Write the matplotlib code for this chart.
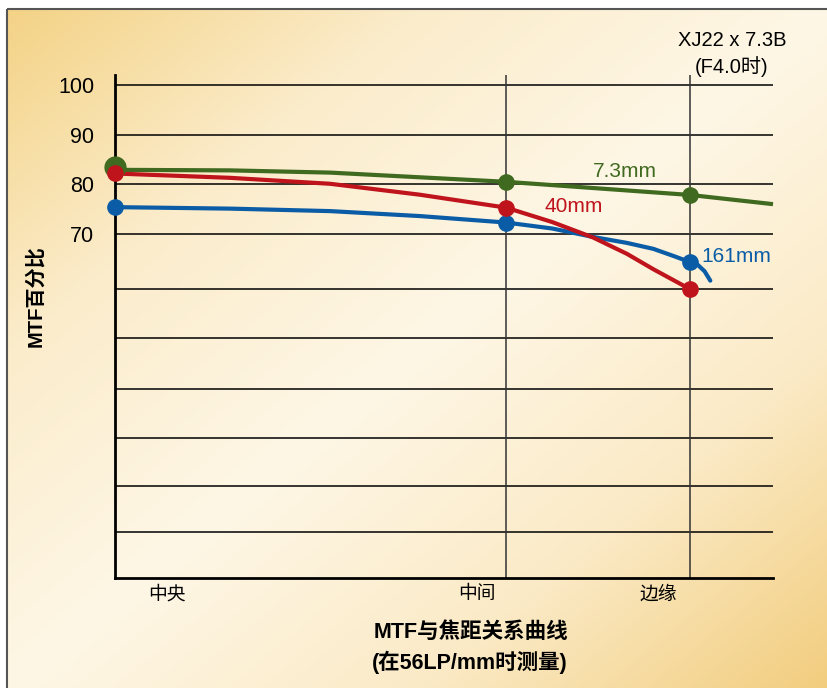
import numpy as np
import matplotlib
matplotlib.use('Agg')
import matplotlib.pyplot as plt
from matplotlib import font_manager
from matplotlib.colors import LinearSegmentedColormap
from matplotlib.patches import Rectangle

# fonts: condensed latin if we have it, CJK as fallback
names = {f.name for f in font_manager.fontManager.ttflist}
latin = 'Liberation Sans Narrow' if 'Liberation Sans Narrow' in names else 'Liberation Sans'
cjk = 'Noto Sans CJK SC'
fam = [latin, cjk, 'DejaVu Sans']
fam_cjk = [cjk, latin, 'DejaVu Sans']
plt.rcParams['font.family'] = fam

# --- data ---
pos_labels = ['中央', '中间', '边缘']
pos_x = [0.0, 6.8, 10.0]          # 中央 / 中间 / 边缘

# 7.3mm
g_x = [0.0, 0.17, 2.0, 3.74, 6.8, 10.0, 11.44]
g_y = [82.9, 82.9, 82.8, 82.35, 80.5, 77.85, 76.0]
g_mark = [83.4, 80.5, 77.9]

# 40mm
r_x = [0.0, 0.17, 2.0, 3.74, 5.30, 6.8, 7.6, 8.31, 8.9, 9.36, 9.98]
r_y = [82.3, 82.1, 81.3, 80.1, 77.9, 75.3, 72.4, 69.3, 66.0, 62.9, 59.0]
r_mark = [82.3, 75.3, 59.0]

# 161mm
b_x = [0.0, 2.0, 3.74, 5.30, 6.8, 7.6, 8.31, 8.9, 9.36, 9.75, 9.98, 10.12, 10.25, 10.35]
b_y = [75.4, 75.1, 74.6, 73.6, 72.3, 71.1, 69.4, 68.2, 67.0, 65.4, 64.4, 63.9, 62.5, 60.6]
b_mark = [75.4, 72.3, 64.4]

ytick_vals = [70, 80, 90, 100]
lower_grid = [10.0, 19.3, 28.9, 38.8, 49.1, 58.9]

GREEN = '#3f6a1f'
RED = '#c0141d'
BLUE = '#0b5ca6'

W, H = 828, 688
fig = plt.figure(figsize=(W / 100, H / 100), dpi=100)
fig.patch.set_facecolor('white')

# background panel with diagonal gradient
bg = fig.add_axes([0, 0, 1, 1], zorder=-5)
bg.axis('off')
xx, yy = np.meshgrid(np.linspace(0, 1, 300), np.linspace(0, 1, 300))
t = (xx + yy) / 2
cmap = LinearSegmentedColormap.from_list('bg', ['#f4d387', '#fbeccb', '#fef7e6', '#fbeac6', '#f2cd7e'])
bg.imshow(t, cmap=cmap, extent=(7, W + 2, H + 2, 9), aspect='auto', interpolation='bilinear')
bg.add_patch(Rectangle((7, 9), W, H, fill=False, edgecolor='#555555', lw=1.5))
bg.set_xlim(0, W)
bg.set_ylim(H, 0)

# main plot area
ax = fig.add_axes([115 / W, (H - 577.7) / H, (773 - 115) / W, (577.7 - 75) / H])
ax.patch.set_alpha(0)
ax.set_xlim(0, 11.44)
ax.set_ylim(0.8, 102.0)
for s in ['top', 'right']:
    ax.spines[s].set_visible(False)
ax.spines['left'].set_linewidth(2.0)
ax.spines['bottom'].set_linewidth(2.0)

for v in ytick_vals + lower_grid:
    ax.axhline(v, color='black', lw=1.1, zorder=1)
for v in pos_x[1:]:
    ax.axvline(v, color='#333333', lw=1.1, zorder=1)

ax.set_yticks(ytick_vals)
ax.set_yticklabels([str(v) for v in ytick_vals], fontsize=15.5, family=fam)
ax.tick_params(axis='y', length=0, pad=15)
ax.set_xticks([0.9, 6.3, 9.44])
ax.set_xticklabels(pos_labels, fontsize=13.5, family=fam_cjk)
ax.tick_params(axis='x', length=0, pad=4)

lw = 3.0
ax.plot(g_x, g_y, color=GREEN, lw=lw, solid_capstyle='butt', solid_joinstyle='round', clip_on=False, zorder=3)
ax.plot(r_x, r_y, color=RED, lw=lw, solid_capstyle='butt', solid_joinstyle='round', clip_on=False, zorder=4)
ax.plot(b_x, b_y, color=BLUE, lw=lw, solid_capstyle='round', solid_joinstyle='round', clip_on=False, zorder=3)

ax.plot(pos_x[:1], g_mark[:1], 'o', color=GREEN, ms=15, clip_on=False, zorder=5)
ax.plot(pos_x[1:], g_mark[1:], 'o', color=GREEN, ms=11, clip_on=False, zorder=5)
ax.plot(pos_x, r_mark, 'o', color=RED, ms=11, clip_on=False, zorder=6)
ax.plot(pos_x, b_mark, 'o', color=BLUE, ms=11, clip_on=False, zorder=5)

ax.text(8.87, 82.6, '7.3mm', color=GREEN, fontsize=15, ha='center', va='center')
ax.text(7.97, 75.5, '40mm', color=RED, fontsize=15, ha='center', va='center')
ax.text(10.8, 65.5, '161mm', color=BLUE, fontsize=15, ha='center', va='center')

# header text, top right
fig.text(732 / W, 1 - 40 / H, 'XJ22 x 7.3B', fontsize=14.5, ha='center', va='center', family=fam)
fig.text(732 / W, 1 - 67 / H, '(F4.0时)', fontsize=14.5, ha='center', va='center', family=fam)

fig.text(35 / W, 1 - 296 / H, 'MTF百分比', rotation=90, fontsize=14.5, fontweight='bold',
         ha='center', va='center', family=fam)
fig.text(471 / W, 1 - 632 / H, 'MTF与焦距关系曲线', fontsize=15.5, fontweight='bold',
         ha='center', va='center', family=fam)
fig.text(470 / W, 1 - 662 / H, '(在56LP/mm时测量)', fontsize=15.5, fontweight='bold',
         ha='center', va='center', family=fam)

fig.savefig('out.png', dpi=100)
